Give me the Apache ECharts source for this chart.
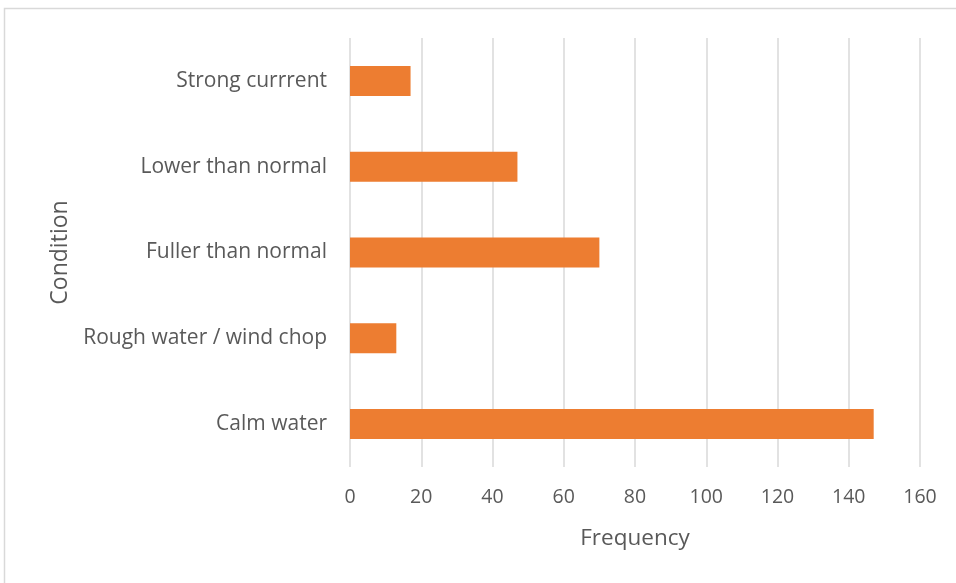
<!DOCTYPE html>
<html>
<head>
<meta charset="utf-8">
<script src="https://cdn.jsdelivr.net/npm/echarts@6/dist/echarts.min.js"></script>
<style>
  html, body { margin: 0; padding: 0; background: #fff; }
  #chart { width: 956px; height: 583px; }
</style>
</head>
<body>
<div id="chart"></div>
<script>
// Water conditions (bottom to top on the category axis)
const conditions = ['Calm water', 'Rough water / wind chop', 'Fuller than normal', 'Lower than normal', 'Strong currrent'];
const frequency = [147, 13, 70, 47, 17];
const freqTicks = { min: 0, max: 160, interval: 20 };

const textColor = '#595959';
const fontFamily = '"Open Sans", "Liberation Sans", sans-serif';

const chart = echarts.init(document.getElementById('chart'), null, { renderer: 'canvas' });
chart.setOption({
  animation: false,
  backgroundColor: '#fff',
  graphic: [{
    type: 'rect',
    shape: { x: 4.5, y: 8.5, width: 980, height: 600 },
    style: { fill: 'none', stroke: '#d9d9d9', lineWidth: 1.5 },
    silent: true
  }],
  grid: { left: 350, right: 36, top: 38, bottom: 116, containLabel: false },
  xAxis: {
    type: 'value',
    min: freqTicks.min,
    max: freqTicks.max,
    interval: freqTicks.interval,
    name: 'Frequency',
    nameLocation: 'middle',
    nameGap: 60,
    nameTextStyle: { color: textColor, fontSize: 22.5, fontFamily },
    axisLine: { show: false },
    axisTick: { show: false },
    axisLabel: { color: textColor, fontSize: 19.5, fontFamily, margin: 20 },
    splitLine: { show: true, lineStyle: { color: '#d9d9d9', width: 1.5 } }
  },
  yAxis: {
    type: 'category',
    data: conditions,
    name: 'Condition',
    nameLocation: 'middle',
    nameGap: 278,
    nameRotate: 90,
    nameTextStyle: { color: textColor, fontSize: 23, fontFamily },
    axisLine: { show: false },
    axisTick: { show: false },
    axisLabel: { color: textColor, fontSize: 21, fontFamily, margin: 23 },
    splitLine: { show: false }
  },
  series: [{
    type: 'bar',
    data: frequency,
    barCategoryGap: '65%',
    itemStyle: { color: '#ED7D31' }
  }]
});
</script>
</body>
</html>
